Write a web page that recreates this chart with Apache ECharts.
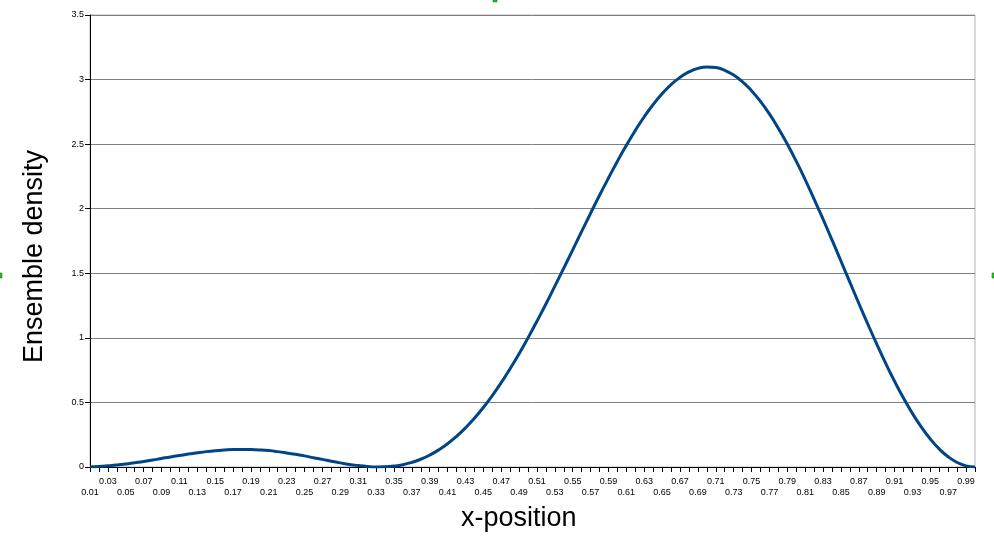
<!DOCTYPE html>
<html style="height: 100%">
   <head>
       <meta charset="utf-8">
   </head>
   <body style="height: 100%; margin: 0; background: #fff">
       <div id="container" style="width: 994px; height: 538px"></div>
       <script type="text/javascript" src="https://cdn.jsdelivr.net/npm/echarts@6/dist/echarts.min.js"></script>
       <script type="text/javascript">
// x-position categories 0.01 .. 1.00
var positions = ['0.01','0.02','0.03','0.04','0.05','0.06','0.07','0.08','0.09','0.1',
    '0.11','0.12','0.13','0.14','0.15','0.16','0.17','0.18','0.19','0.2',
    '0.21','0.22','0.23','0.24','0.25','0.26','0.27','0.28','0.29','0.3',
    '0.31','0.32','0.33','0.34','0.35','0.36','0.37','0.38','0.39','0.4',
    '0.41','0.42','0.43','0.44','0.45','0.46','0.47','0.48','0.49','0.5',
    '0.51','0.52','0.53','0.54','0.55','0.56','0.57','0.58','0.59','0.6',
    '0.61','0.62','0.63','0.64','0.65','0.66','0.67','0.68','0.69','0.7',
    '0.71','0.72','0.73','0.74','0.75','0.76','0.77','0.78','0.79','0.8',
    '0.81','0.82','0.83','0.84','0.85','0.86','0.87','0.88','0.89','0.9',
    '0.91','0.92','0.93','0.94','0.95','0.96','0.97','0.98','0.99','1'];

// ensemble density
var density = [0.001,0.004,0.009,0.015,0.023,0.033,0.043,0.054,0.066,0.078,
    0.089,0.100,0.110,0.119,0.126,0.131,0.135,0.136,0.135,0.132,
    0.127,0.119,0.109,0.098,0.086,0.072,0.059,0.045,0.032,0.020,
    0.011,0.004,0.000,0.001,0.007,0.018,0.036,0.060,0.092,0.132,
    0.180,0.237,0.303,0.377,0.461,0.553,0.653,0.762,0.877,1.000,
    1.129,1.262,1.400,1.540,1.681,1.824,1.965,2.104,2.238,2.368,
    2.491,2.606,2.712,2.807,2.890,2.961,3.017,3.059,3.087,3.098,
    3.093,3.072,3.035,2.983,2.914,2.831,2.734,2.623,2.501,2.368,
    2.226,2.075,1.919,1.759,1.595,1.431,1.268,1.108,0.953,0.804,
    0.664,0.534,0.415,0.309,0.217,0.140,0.079,0.035,0.009,0.000];

var yTicks = [0, 0.5, 1, 1.5, 2, 2.5, 3, 3.5];

var dom = document.getElementById("container");
var myChart = echarts.init(dom);
var option = {
    backgroundColor: '#fff',
    animation: false,
    grid: {
        left: 90,
        right: 19,
        top: 15,
        bottom: 71,
        show: true,
        borderColor: '#b3b3b3',
        borderWidth: 1
    },
    xAxis: {
        type: 'category',
        data: positions,
        boundaryGap: false,
        axisLine: { lineStyle: { color: '#000', width: 1 } },
        axisTick: { interval: 0, length: 5, lineStyle: { color: '#000' } },
        axisLabel: {
            interval: 0,
            margin: 9,
            fontSize: 9,
            lineHeight: 11,
            color: '#000',
            fontFamily: 'Liberation Sans',
            formatter: function (val, i) {
                if (i % 4 === 2) return val;
                if (i % 4 === 0) return '\n' + val;
                return '';
            }
        },
        splitLine: { show: false }
    },
    yAxis: {
        type: 'value',
        min: yTicks[0],
        max: yTicks[yTicks.length - 1],
        interval: 0.5,
        axisLine: { show: true, lineStyle: { color: '#000', width: 1 } },
        axisTick: { show: true, length: 5, lineStyle: { color: '#000' } },
        axisLabel: { fontSize: 9, color: '#000', margin: 6, fontFamily: 'Liberation Sans' },
        splitLine: { lineStyle: { color: '#808080', width: 1 } }
    },
    graphic: [
        {
            type: 'text', left: 21, top: 150,
            rotation: Math.PI / 2,
            style: { text: 'Ensemble density', fontSize: 27, fill: '#000', fontFamily: 'Liberation Sans' }
        },
        {
            type: 'text', left: 461, top: 505,
            style: { text: 'x-position', fontSize: 27, fill: '#000', fontFamily: 'Liberation Sans' }
        },
        { type: 'rect', shape: { x: 493, y: 0, width: 4, height: 2 }, style: { fill: '#33cc33', stroke: '#006600', lineWidth: 0.5 } },
        { type: 'rect', shape: { x: 0, y: 273, width: 2, height: 5 }, style: { fill: '#33cc33', stroke: '#006600', lineWidth: 0.5 } },
        { type: 'rect', shape: { x: 992, y: 273, width: 2, height: 5 }, style: { fill: '#33cc33', stroke: '#006600', lineWidth: 0.5 } }
    ],
    series: [{
        type: 'line',
        data: density,
        showSymbol: false,
        symbol: 'none',
        smooth: true,
        lineStyle: { color: '#004586', width: 3 }
    }]
};
myChart.setOption(option);
       </script>
   </body>
</html>
